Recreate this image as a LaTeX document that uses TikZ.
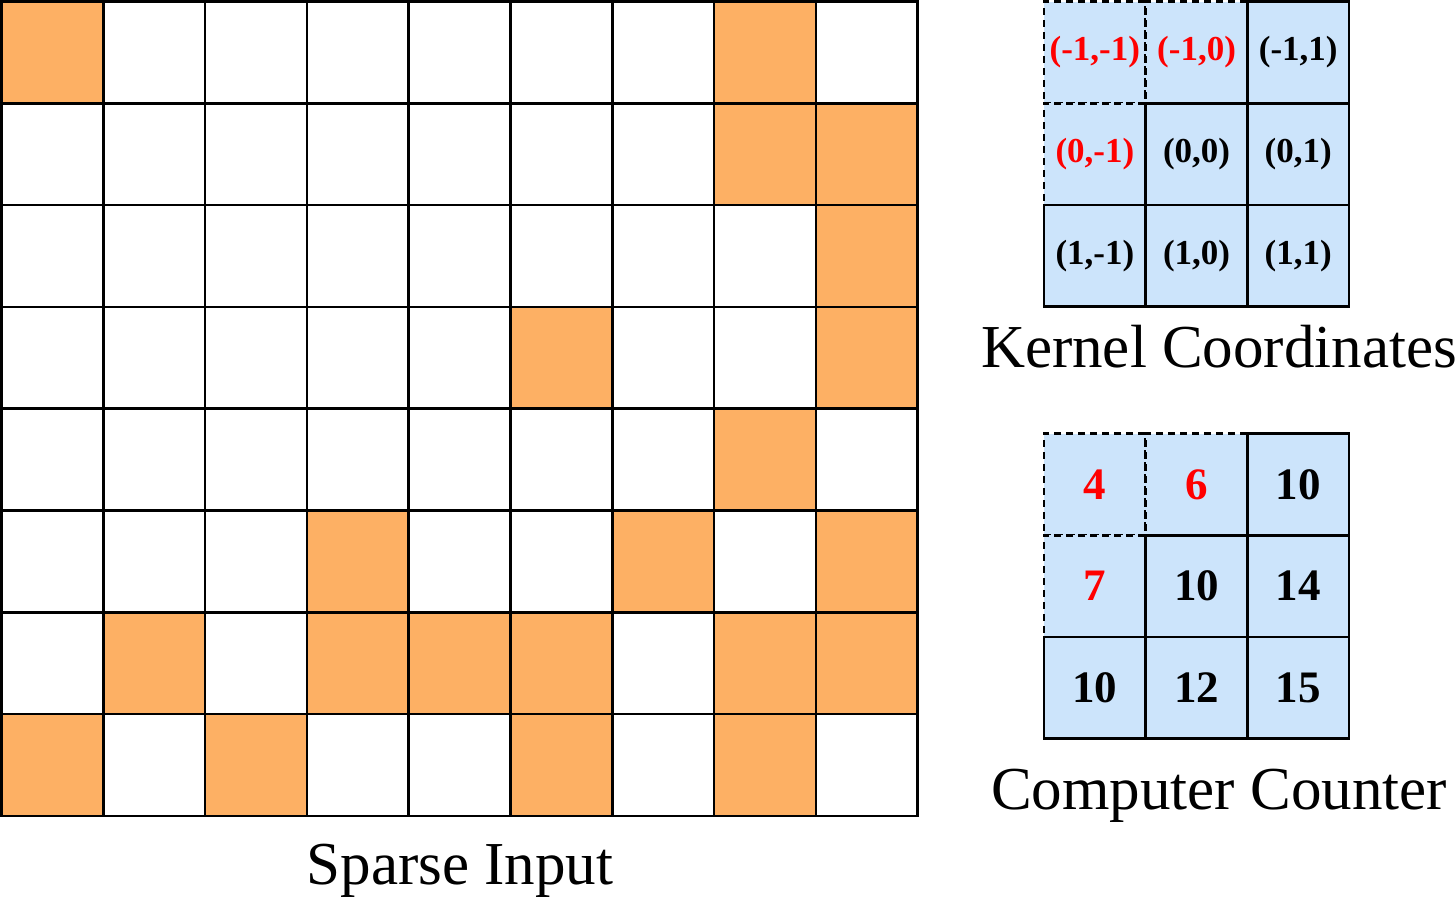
\documentclass[tikz,border=0pt]{standalone}
\usepackage{fontspec}
\setmainfont{Liberation Serif}
\definecolor{orangecell}{RGB}{253,176,100}
\definecolor{bluecell}{RGB}{204,228,251}
\definecolor{redtxt}{RGB}{255,0,0}
\begin{document}
\begin{tikzpicture}[x=1pt,y=-1pt,
  gridcell/.style={draw=black,line width=2.6pt,minimum width=101.8pt,minimum height=101.8pt,inner sep=0pt,rectangle},
  kcell/.style={draw=black,line width=2.6pt,fill=bluecell,minimum width=101.7pt,minimum height=101.7pt,inner sep=0pt,rectangle},
  kdash/.style={kcell,dashed,dash pattern=on 7pt off 5pt},
  ktext/.style={font=\fontsize{35}{40}\selectfont\bfseries},
  ctext/.style={font=\fontsize{45}{50}\selectfont\bfseries},
  caption/.style={font=\fontsize{61}{66}\selectfont,anchor=base,inner sep=0pt}]
\useasboundingbox (0,0) rectangle (1456,898);
% sparse input grid
\def\orangelist{0/0,0/7,1/7,1/8,2/8,3/5,3/8,4/7,5/3,5/6,5/8,6/1,6/3,6/4,6/5,6/7,6/8,7/0,7/2,7/5,7/7}
\foreach \r in {0,...,7}{
  \foreach \c in {0,...,8}{
    \node[gridcell,fill=white] (s-\r-\c) at ({1.5+101.8*(\c+0.5)},{1.5+101.8*(\r+0.5)}) {};
  }
}
\foreach \r/\c in \orangelist{
  \node[gridcell,fill=orangecell] (o-\r-\c) at ({1.5+101.8*(\c+0.5)},{1.5+101.8*(\r+0.5)}) {};
}
% kernel coordinates
\node[kdash,ktext,text=redtxt] (k00) at ({1044+101.7*0.5},{1.5+101.7*0.5}) {(-1,-1)};
\node[kdash,ktext,text=redtxt] (k01) at ({1044+101.7*1.5},{1.5+101.7*0.5}) {(-1,0)};
\node[kdash,ktext,text=redtxt] (k10) at ({1044+101.7*0.5},{1.5+101.7*1.5}) {(0,-1)};
\node[kcell,ktext] (k02) at ({1044+101.7*2.5},{1.5+101.7*0.5}) {(-1,1)};
\node[kcell,ktext] (k11) at ({1044+101.7*1.5},{1.5+101.7*1.5}) {(0,0)};
\node[kcell,ktext] (k12) at ({1044+101.7*2.5},{1.5+101.7*1.5}) {(0,1)};
\node[kcell,ktext] (k20) at ({1044+101.7*0.5},{1.5+101.7*2.5}) {(1,-1)};
\node[kcell,ktext] (k21) at ({1044+101.7*1.5},{1.5+101.7*2.5}) {(1,0)};
\node[kcell,ktext] (k22) at ({1044+101.7*2.5},{1.5+101.7*2.5}) {(1,1)};
% computer counter
\node[kdash,ctext,text=redtxt] (c00) at ({1044+101.7*0.5},{433.5+101.7*0.5}) {4};
\node[kdash,ctext,text=redtxt] (c01) at ({1044+101.7*1.5},{433.5+101.7*0.5}) {6};
\node[kdash,ctext,text=redtxt] (c10) at ({1044+101.7*0.5},{433.5+101.7*1.5}) {7};
\node[kcell,ctext] (c02) at ({1044+101.7*2.5},{433.5+101.7*0.5}) {10};
\node[kcell,ctext] (c11) at ({1044+101.7*1.5},{433.5+101.7*1.5}) {10};
\node[kcell,ctext] (c12) at ({1044+101.7*2.5},{433.5+101.7*1.5}) {14};
\node[kcell,ctext] (c20) at ({1044+101.7*0.5},{433.5+101.7*2.5}) {10};
\node[kcell,ctext] (c21) at ({1044+101.7*1.5},{433.5+101.7*2.5}) {12};
\node[kcell,ctext] (c22) at ({1044+101.7*2.5},{433.5+101.7*2.5}) {15};
% captions
\node[caption] (capS) at (460,884) {Sparse Input};
\node[caption] (capK) at (1219,367) {Kernel Coordinates};
\node[caption] (capC) at (1219,809) {Computer Counter};
\end{tikzpicture}
\end{document}
